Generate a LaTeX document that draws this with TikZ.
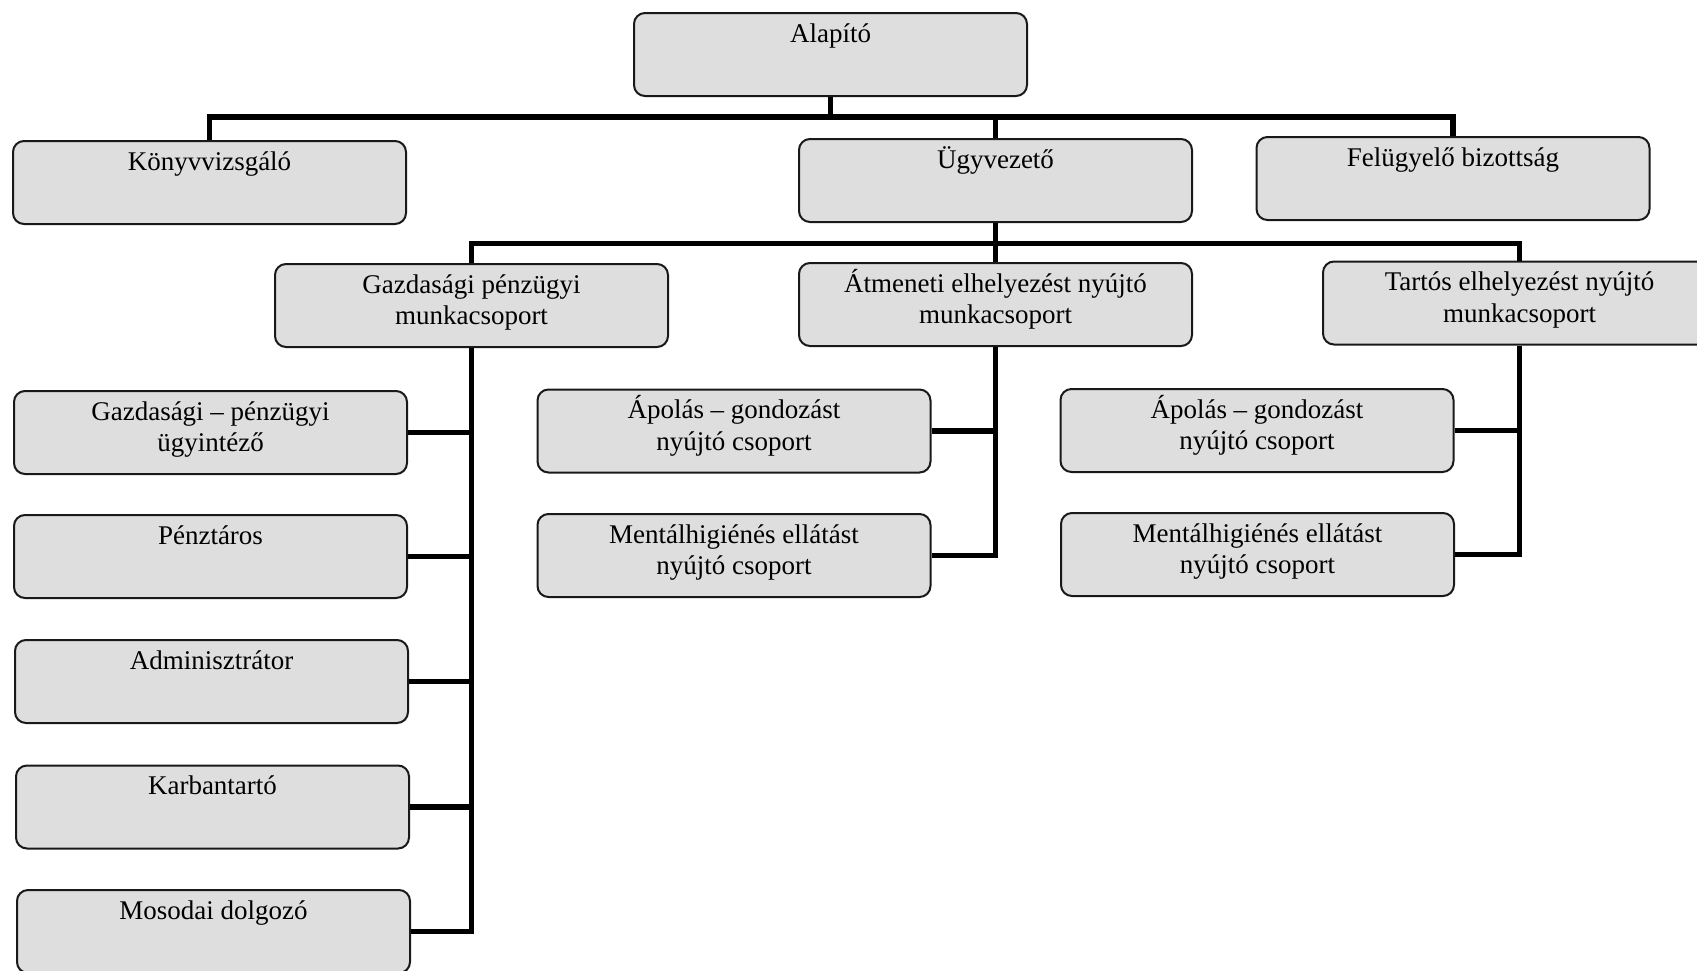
\documentclass[tikz,border=0pt]{standalone}
\usepackage{fontspec}
\setmainfont{Liberation Serif}
\usetikzlibrary{calc}
\newcommand\bt[1]{\parbox[t][83pt][t]{393pt}{\centering\rule{0pt}{29pt}#1\par}}
\begin{document}
\begin{tikzpicture}[x=1pt,y=-1pt,
  orgbox/.style={draw=black!90,line width=2pt,rounded corners=11pt,fill=black!13,
    minimum width=393pt,minimum height=83pt,inner sep=0pt,
    font=\fontsize{27}{31.5}\selectfont},
  conn/.style={line width=5.5pt,line join=miter,line cap=butt}]
\useasboundingbox (0,0) rectangle (1697,970);
\clip (0,0) rectangle (1697,970);
% boxes
\node[orgbox] (alap) at (830.5,54.5) {\bt{Alapító}};
\node[orgbox] (konyv) at (209.5,182.5) {\bt{Könyvvizsgáló}};
\node[orgbox] (ugy) at (995.5,180.5) {\bt{Ügyvezető}};
\node[orgbox] (felu) at (1453,178.5) {\bt{Felügyelő bizottság}};
\node[orgbox] (gazd) at (471.5,305.5) {\bt{Gazdasági pénzügyi\\munkacsoport}};
\node[orgbox] (atm) at (995.5,304.5) {\bt{Átmeneti elhelyezést nyújtó\\munkacsoport}};
\node[orgbox] (tart) at (1519.5,303) {\bt{Tartós elhelyezést nyújtó\\munkacsoport}};
\node[orgbox] (g1) at (210.5,432.5) {\bt{Gazdasági -- pénzügyi\\ügyintéző}};
\node[orgbox] (g2) at (210.5,556.5) {\bt{Pénztáros}};
\node[orgbox] (g3) at (211.5,681.5) {\bt{Adminisztrátor}};
\node[orgbox] (g4) at (212.5,807) {\bt{Karbantartó}};
\node[orgbox] (g5) at (213.5,931.5) {\bt{Mosodai dolgozó}};
\node[orgbox] (a1) at (734,431) {\bt{Ápolás -- gondozást\\nyújtó csoport}};
\node[orgbox] (a2) at (734,555.5) {\bt{Mentálhigiénés ellátást\\nyújtó csoport}};
\node[orgbox] (t1) at (1257,430.5) {\bt{Ápolás -- gondozást\\nyújtó csoport}};
\node[orgbox] (t2) at (1257.5,554.5) {\bt{Mentálhigiénés ellátást\\nyújtó csoport}};
% bus coordinates
\coordinate (bus1) at (0,117);
\coordinate (bus2) at (0,243.5);
% connectors
\draw[conn] (konyv.north) -- (konyv.north |- bus1) -- (felu.north |- bus1) -- (felu.north);
\draw[conn] (alap.south) -- (alap.south |- bus1);
\draw[conn] (ugy.north) -- (ugy.north |- bus1);
\draw[conn] (gazd.north) -- (gazd.north |- bus2) -- (tart.north |- bus2) -- (tart.north);
\draw[conn] (ugy.south) -- (ugy.south |- bus2);
\draw[conn] (atm.north) -- (atm.north |- bus2);
% left column
\draw[conn] (gazd.south) -- (gazd.south |- g5.east) -- (g5.east);
\draw[conn] (g1.east) -- (g1.east -| gazd.south);
\draw[conn] (g2.east) -- (g2.east -| gazd.south);
\draw[conn] (g3.east) -- (g3.east -| gazd.south);
\draw[conn] (g4.east) -- (g4.east -| gazd.south);
% middle column
\draw[conn] (atm.south) -- (atm.south |- a2.east) -- (a2.east);
\draw[conn] (a1.east) -- (a1.east -| atm.south);
% right column
\draw[conn] (tart.south) -- (tart.south |- t2.east) -- (t2.east);
\draw[conn] (t1.east) -- (t1.east -| tart.south);
\end{tikzpicture}
\end{document}
